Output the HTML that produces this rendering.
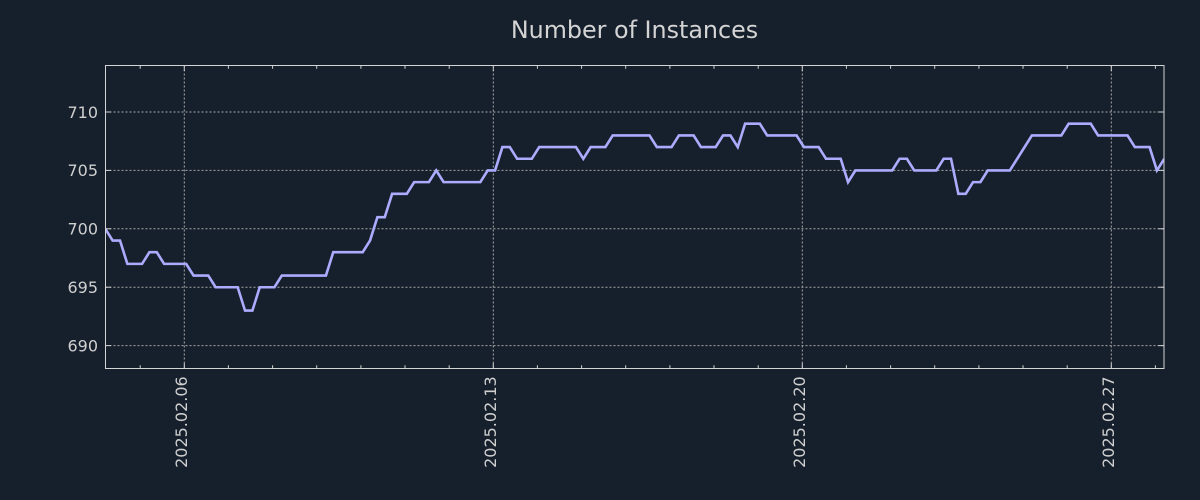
<!DOCTYPE html>
<html>
<head>
<meta charset="utf-8">
<style>
html,body{margin:0;padding:0;background:#161f2c;}
svg{display:block;}
text{font-family:"DejaVu Sans","Liberation Sans",sans-serif;}
</style>
</head>
<body>
<svg width="1200" height="500" viewBox="0 0 1200 500" xmlns="http://www.w3.org/2000/svg">
<rect x="0" y="0" width="1200" height="500" fill="#161f2c"/>
<defs>
<clipPath id="ax"><rect x="105.3" y="65.3" width="1059" height="303.7"/></clipPath>
</defs>
<text x="634.5" y="38" font-size="23.8" fill="#d4d4d4" text-anchor="middle">Number of Instances</text>

<!-- grid -->
<g stroke="#a8a8a8" stroke-width="1" stroke-dasharray="2,2" fill="none">
<line x1="105.5" y1="112" x2="1164" y2="112"/>
<line x1="105.5" y1="170.4" x2="1164" y2="170.4"/>
<line x1="105.5" y1="228.8" x2="1164" y2="228.8"/>
<line x1="105.5" y1="287.2" x2="1164" y2="287.2"/>
<line x1="105.5" y1="345.6" x2="1164" y2="345.6"/>
<line x1="184.3" y1="65.5" x2="184.3" y2="368.5"/>
<line x1="493.3" y1="65.5" x2="493.3" y2="368.5"/>
<line x1="802.3" y1="65.5" x2="802.3" y2="368.5"/>
<line x1="1111.3" y1="65.5" x2="1111.3" y2="368.5"/>
</g>

<!-- data line -->
<polyline clip-path="url(#ax)" fill="none" stroke="#acacff" stroke-width="2.6" stroke-linejoin="miter" stroke-linecap="butt"
points="105.3,228.84 112.65,240.52 120.01,240.52 127.36,263.88 142.07,263.88 149.42,252.2 156.78,252.2 164.13,263.88 186.19,263.88 193.55,275.56 208.26,275.56 215.61,287.24 237.67,287.24 245.03,310.6 252.38,310.6 259.73,287.24 274.44,287.24 281.8,275.56 325.92,275.56 333.27,252.2 362.69,252.2 370.04,240.52 377.4,217.16 384.75,217.16 392.11,193.8 406.81,193.8 414.17,182.12 428.88,182.12 436.23,170.44 443.58,182.12 480.35,182.12 487.71,170.44 495.06,170.44 502.42,147.08 509.77,147.08 517.12,158.76 531.83,158.76 539.19,147.08 575.96,147.08 583.31,158.76 590.66,147.08 605.37,147.08 612.73,135.4 649.5,135.4 656.85,147.08 671.56,147.08 678.91,135.4 693.62,135.4 700.97,147.08 715.68,147.08 723.04,135.4 730.39,135.4 737.74,147.08 745.1,123.72 759.81,123.72 767.16,135.4 796.58,135.4 803.93,147.08 818.64,147.08 825.99,158.76 840.7,158.76 848.05,182.12 855.41,170.44 892.18,170.44 899.53,158.76 906.89,158.76 914.24,170.44 936.3,170.44 943.66,158.76 951.01,158.76 958.36,193.8 965.72,193.8 973.07,182.12 980.43,182.12 987.78,170.44 1009.84,170.44 1031.9,135.4 1061.32,135.4 1068.67,123.72 1090.74,123.72 1098.09,135.4 1127.51,135.4 1134.86,147.08 1149.57,147.08 1156.92,170.44 1164.28,158.76"/>

<!-- ticks -->
<g stroke="#d0d0d0" stroke-width="1" fill="none">
<line x1="105.5" y1="112" x2="111" y2="112"/>
<line x1="105.5" y1="170.4" x2="111" y2="170.4"/>
<line x1="105.5" y1="228.8" x2="111" y2="228.8"/>
<line x1="105.5" y1="287.2" x2="111" y2="287.2"/>
<line x1="105.5" y1="345.6" x2="111" y2="345.6"/>
<line x1="1158.5" y1="112" x2="1164" y2="112"/>
<line x1="1158.5" y1="170.4" x2="1164" y2="170.4"/>
<line x1="1158.5" y1="228.8" x2="1164" y2="228.8"/>
<line x1="1158.5" y1="287.2" x2="1164" y2="287.2"/>
<line x1="1158.5" y1="345.6" x2="1164" y2="345.6"/>
<line x1="184.3" y1="368.5" x2="184.3" y2="363"/>
<line x1="493.3" y1="368.5" x2="493.3" y2="363"/>
<line x1="802.3" y1="368.5" x2="802.3" y2="363"/>
<line x1="1111.3" y1="368.5" x2="1111.3" y2="363"/>
<line x1="184.3" y1="65.5" x2="184.3" y2="71"/>
<line x1="493.3" y1="65.5" x2="493.3" y2="71"/>
<line x1="802.3" y1="65.5" x2="802.3" y2="71"/>
<line x1="1111.3" y1="65.5" x2="1111.3" y2="71"/>
</g>
<g stroke="#d0d0d0" stroke-width="1" fill="none">
<path d="M140.2 368.5v-3.2M228.4 368.5v-3.2M272.6 368.5v-3.2M316.7 368.5v-3.2M360.9 368.5v-3.2M405 368.5v-3.2M449.2 368.5v-3.2M537.4 368.5v-3.2M581.6 368.5v-3.2M625.7 368.5v-3.2M669.9 368.5v-3.2M714 368.5v-3.2M758.2 368.5v-3.2M846.4 368.5v-3.2M890.6 368.5v-3.2M934.7 368.5v-3.2M978.9 368.5v-3.2M1023 368.5v-3.2M1067.2 368.5v-3.2M1155.4 368.5v-3.2"/>
<path d="M140.2 65.5v3.2M228.4 65.5v3.2M272.6 65.5v3.2M316.7 65.5v3.2M360.9 65.5v3.2M405 65.5v3.2M449.2 65.5v3.2M537.4 65.5v3.2M581.6 65.5v3.2M625.7 65.5v3.2M669.9 65.5v3.2M714 65.5v3.2M758.2 65.5v3.2M846.4 65.5v3.2M890.6 65.5v3.2M934.7 65.5v3.2M978.9 65.5v3.2M1023 65.5v3.2M1067.2 65.5v3.2M1155.4 65.5v3.2"/>
</g>

<!-- spines -->
<rect x="105.5" y="65.5" width="1058.5" height="303" fill="none" stroke="#d4d4d4" stroke-width="1"/>

<!-- y labels -->
<g font-size="16" fill="#cfcfcf" text-anchor="end">
<text x="98" y="117.8">710</text>
<text x="98" y="176.2">705</text>
<text x="98" y="234.6">700</text>
<text x="98" y="293">695</text>
<text x="98" y="351.4">690</text>
</g>

<!-- x labels -->
<g font-size="16" fill="#cfcfcf" text-anchor="end">
<text transform="translate(187.1,376.3) rotate(-90)">2025.02.06</text>
<text transform="translate(496.1,376.3) rotate(-90)">2025.02.13</text>
<text transform="translate(805.1,376.3) rotate(-90)">2025.02.20</text>
<text transform="translate(1114.1,376.3) rotate(-90)">2025.02.27</text>
</g>
</svg>
</body>
</html>
